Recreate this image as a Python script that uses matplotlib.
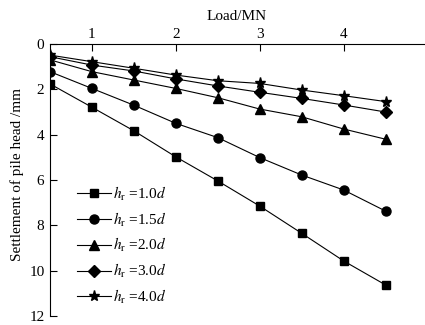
import matplotlib
matplotlib.use("Agg")
import matplotlib.pyplot as plt

plt.rcParams["font.family"] = ["Liberation Serif", "DejaVu Serif"]
plt.rcParams["mathtext.fontset"] = "stix"

# Load (MN) and pile-head settlement (mm) for each rock-socket depth
load = [0.5, 1.0, 1.5, 2.0, 2.5, 3.0, 3.5, 4.0, 4.5]
s_10d = [1.76, 2.79, 3.83, 4.98, 6.04, 7.15, 8.35, 9.57, 10.63]
s_15d = [1.22, 1.96, 2.70, 3.50, 4.13, 5.01, 5.78, 6.44, 7.37]
s_20d = [0.70, 1.22, 1.59, 1.96, 2.37, 2.87, 3.21, 3.75, 4.20]
s_30d = [0.56, 0.93, 1.19, 1.54, 1.85, 2.13, 2.40, 2.69, 3.00]
s_40d = [0.49, 0.78, 1.07, 1.37, 1.62, 1.74, 2.03, 2.28, 2.54]

series = [s_10d, s_15d, s_20d, s_30d, s_40d]
ratios = ["1.0", "1.5", "2.0", "3.0", "4.0"]
markers = ["s", "o", "^", "D", "*"]
msizes = [6, 6.5, 7, 6, 8]

fig = plt.figure(figsize=(4.25, 3.25), dpi=100)
ax = fig.add_axes([0.1176, 0.0277, 0.8804, 0.8369])

for s, r, m, ms in zip(series, ratios, markers, msizes):
    ax.plot(load, s, color="black", lw=0.8, marker=m, markersize=ms,
            label=r"$h_{\rm r}$ =" + r + r"$d$")

ax.set_xlim(0.5, 4.96)
ax.set_ylim(12, 0)
ax.set_xticks([1, 2, 3, 4])
ax.set_yticks([0, 2, 4, 6, 8, 10, 12])

ax.xaxis.tick_top()
ax.xaxis.set_label_position("top")
ax.spines["bottom"].set_visible(False)
ax.spines["right"].set_visible(False)
ax.tick_params(direction="in", length=5, width=0.8, labelsize=11, pad=2)
ax.tick_params(axis="y", pad=4)

ax.set_xlabel("Load/MN", fontsize=11, labelpad=6)
ax.set_ylabel("Settlement of pile head /mm", fontsize=11)
ax.yaxis.set_label_coords(-0.07, 0.522)

ax.legend(loc="upper left", bbox_to_anchor=(0.057, 0.505), frameon=False,
          fontsize=11, handlelength=2.2, handletextpad=0.1,
          labelspacing=0.5, borderaxespad=0)

fig.savefig("out.png", dpi=100)
